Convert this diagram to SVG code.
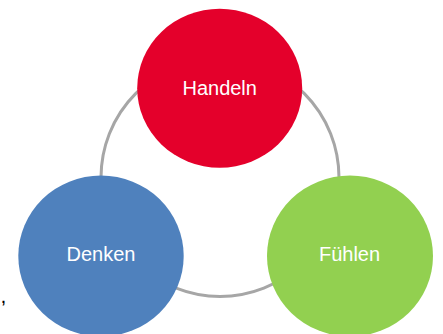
<svg xmlns="http://www.w3.org/2000/svg" width="443" height="334" viewBox="0 0 443 334">
<style>
.lbl{font-family:"Liberation Sans",Arial,sans-serif;font-size:20px;fill:#ffffff;text-anchor:middle}
.ring{fill:none;stroke:#a6a6a6;stroke-width:3}
</style>
<rect width="443" height="334" fill="#ffffff"/>
<g id="connectors">
<circle class="ring" cx="220" cy="177.5" r="119"/>
</g>
<g id="handeln">
<ellipse cx="219.7" cy="88.2" rx="82.5" ry="79.5" fill="#e4002b"/>
<text class="lbl" x="219.7" y="95">Handeln</text>
</g>
<g id="denken">
<ellipse cx="101" cy="256" rx="82.7" ry="80.5" fill="#4f81bd"/>
<text class="lbl" x="101" y="261">Denken</text>
</g>
<g id="fuehlen">
<ellipse cx="350" cy="256" rx="83" ry="80.5" fill="#92d050"/>
<text class="lbl" x="349.5" y="261">Fühlen</text>
</g>
<text x="1.5" y="303" style="font-family:'Liberation Sans',Arial,sans-serif;font-size:14px;font-weight:bold;fill:#000">,</text>
</svg>
